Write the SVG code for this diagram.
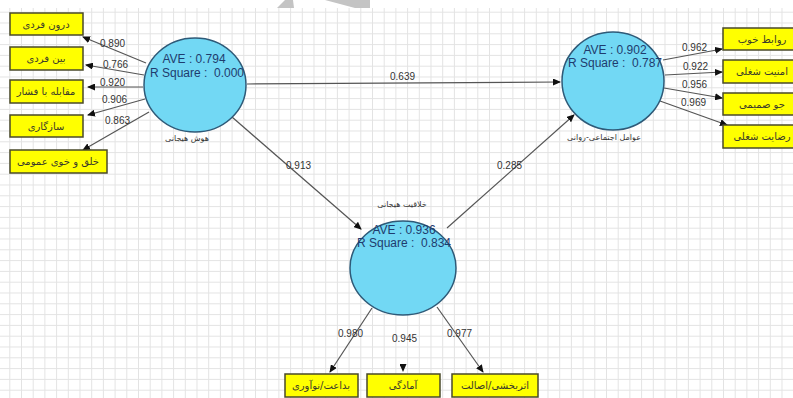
<svg xmlns="http://www.w3.org/2000/svg" width="793" height="398" viewBox="0 0 793 398">
<style>
.box{fill:#ffff00;stroke:#4a4a2a;stroke-width:1.5}
.lv{fill:#72d8f4;stroke:#2e5a78;stroke-width:1.5}
.btx{font-family:"DejaVu Sans","Noto Sans",sans-serif;font-size:10px;fill:#3a3a2a;text-anchor:middle}
.lvl{font-family:"DejaVu Sans","Noto Sans",sans-serif;font-size:8px;fill:#333;text-anchor:middle}
.st{font-family:"Liberation Sans",Arial,sans-serif;font-size:12px;fill:#1f3c6e;text-anchor:middle;white-space:pre}
.num{font-family:"Liberation Sans",Arial,sans-serif;font-size:10px;fill:#333}
.con{fill:none;stroke:#555;stroke-width:1.2;marker-end:url(#ah)}
</style>
<defs>
<pattern id="grid" x="9.3" y="0.9" width="11.7" height="10.8" patternUnits="userSpaceOnUse">
<path d="M0 0.5 H11.7 M0.5 0 V10.8" stroke="#e3e3e3" stroke-width="1" fill="none"/>
</pattern>
<marker id="ah" markerUnits="userSpaceOnUse" markerWidth="8" markerHeight="7" refX="7" refY="3.5" orient="auto">
<path d="M0 0 L8 3.5 L0 7 z" fill="#111"/>
</marker>
</defs>
<rect width="793" height="398" fill="#fff"/>
<rect x="0" y="8" width="793" height="390" fill="url(#grid)"/>
<polygon points="277,8 285,0 293,0 294,8" fill="#c4c4c4"/>
<polygon points="325,0 370,0 370,8 355,8" fill="#c4c4c4"/>

<g id="connectors">
<path class="con" d="M146 63 L83 37"/>
<path class="con" d="M144 75 L86 65"/>
<path class="con" d="M143 87 L88 87"/>
<path class="con" d="M145 99 L88 115"/>
<path class="con" d="M149 112 L83 150"/>
<path class="con" d="M247 84 L560 82"/>
<path class="con" d="M232 117 L361 229"/>
<path class="con" d="M447 228 L574 115"/>
<path class="con" d="M663 60 L722 49"/>
<path class="con" d="M665 75 L722 72"/>
<path class="con" d="M664 88 L722 98"/>
<path class="con" d="M660 101 L727 125"/>
<path class="con" d="M372 308 L330 372"/>
<path class="con" d="M403 316 L403 371" style="stroke:none"/>
<path class="con" d="M437 307 L483 372"/>
<text class="num" x="100" y="47">0.890</text>
<text class="num" x="103" y="68">0.766</text>
<text class="num" x="100" y="86">0.920</text>
<text class="num" x="102" y="103">0.906</text>
<text class="num" x="105" y="124">0.863</text>
<text class="num" x="390" y="80">0.639</text>
<text class="num" x="286" y="169">0.913</text>
<text class="num" x="497" y="169">0.285</text>
<text class="num" x="682" y="51">0.962</text>
<text class="num" x="683" y="70">0.922</text>
<text class="num" x="682" y="88">0.956</text>
<text class="num" x="681" y="106">0.969</text>
<text class="num" x="338" y="337">0.980</text>
<text class="num" x="392" y="342">0.945</text>
<text class="num" x="447" y="337">0.977</text>
</g>

<g id="lv-emotional-intelligence">
<ellipse class="lv" cx="195" cy="85" rx="51" ry="47"/>
<text class="st" x="194" y="63">AVE : 0.794</text>
<text class="st" x="197" y="77">R Square :  0.000</text>
<text class="lvl" x="187" y="141">هوش هیجانی</text>
</g>
<g id="lv-psychosocial">
<ellipse class="lv" cx="613" cy="81" rx="51" ry="49"/>
<text class="st" x="615" y="54">AVE : 0.902</text>
<text class="st" x="615" y="67">R Square :  0.787</text>
<text class="lvl" x="604" y="140">عوامل اجتماعی-روانی</text>
</g>
<g id="lv-emotional-creativity">
<ellipse class="lv" cx="403" cy="268" rx="53" ry="47"/>
<text class="st" x="404" y="234">AVE : 0.936</text>
<text class="st" x="404" y="247">R Square :  0.834</text>
<text class="lvl" x="402" y="207">خلاقیت هیجانی</text>
</g>

<g id="ind-intrapersonal"><rect class="box" x="10" y="13" width="73" height="22"/><text class="btx" x="46" y="28">درون فردی</text></g>
<g id="ind-interpersonal"><rect class="box" x="10" y="47" width="73" height="23"/><text class="btx" x="46" y="62">بین فردی</text></g>
<g id="ind-stress"><rect class="box" x="10" y="80" width="73" height="23"/><text class="btx" x="46" y="95">مقابله با فشار</text></g>
<g id="ind-adaptability"><rect class="box" x="10" y="115" width="73" height="22"/><text class="btx" x="46" y="130">سازگاری</text></g>
<g id="ind-mood"><rect class="box" x="10" y="150" width="97" height="23"/><text class="btx" x="58" y="165">خلق و خوی عمومی</text></g>

<g id="ind-relations"><rect class="box" x="723" y="28" width="80" height="22"/><text class="btx" x="762" y="43">روابط خوب</text></g>
<g id="ind-security"><rect class="box" x="723" y="60" width="80" height="23"/><text class="btx" x="762" y="75">امنیت شغلی</text></g>
<g id="ind-climate"><rect class="box" x="723" y="93" width="80" height="22"/><text class="btx" x="762" y="108">جو صمیمی</text></g>
<g id="ind-satisfaction"><rect class="box" x="723" y="125" width="80" height="23"/><text class="btx" x="762" y="140">رضایت شغلی</text></g>

<g id="ind-novelty"><rect class="box" x="285" y="374" width="73" height="23"/><text class="btx" x="321" y="389">بداعت/نوآوری</text></g>
<g id="ind-preparedness"><rect class="box" x="367" y="374" width="73" height="23"/><text class="btx" x="403" y="389">آمادگی</text></g>
<g id="ind-effectiveness"><rect class="box" x="452" y="374" width="86" height="23"/><text class="btx" x="495" y="389">اثربخشی/اصالت</text></g>
</svg>
